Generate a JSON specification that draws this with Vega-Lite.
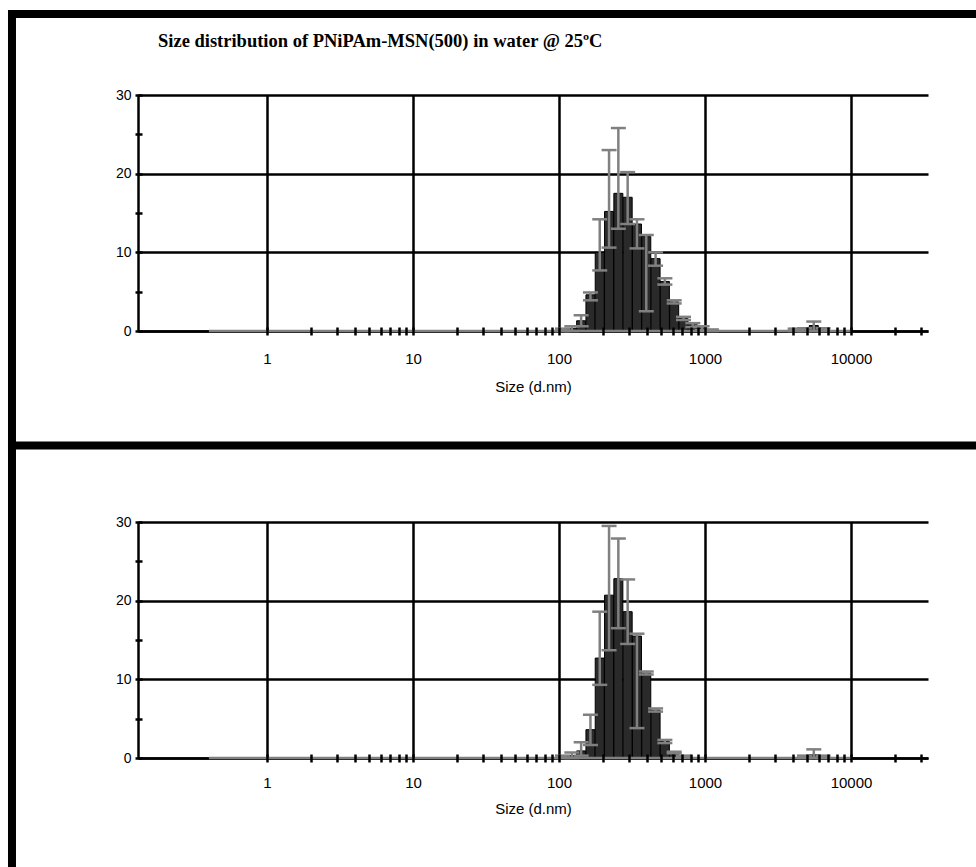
{
  "$schema": "https://vega.github.io/schema/vega-lite/v6.json",
  "background": "white",
  "padding": {"left": 6, "top": 8, "right": 0, "bottom": 0},
  "datasets": {
    "top": [
      {"size": 105.7, "mean": 0.1, "lo": 0, "hi": 0.3},
      {"size": 122.4, "mean": 0.3, "lo": 0, "hi": 0.6},
      {"size": 141.8, "mean": 1.3, "lo": 0.6, "hi": 2.0},
      {"size": 164.2, "mean": 4.6, "lo": 3.9, "hi": 4.9},
      {"size": 190.1, "mean": 10.0, "lo": 7.7, "hi": 14.2},
      {"size": 220.2, "mean": 15.2, "lo": 10.6, "hi": 23.0},
      {"size": 255.0, "mean": 17.5, "lo": 13.0, "hi": 25.8},
      {"size": 295.3, "mean": 17.0, "lo": 13.6, "hi": 20.2},
      {"size": 342.0, "mean": 13.6, "lo": 10.5, "hi": 14.2},
      {"size": 396.1, "mean": 12.0, "lo": 2.5, "hi": 12.2},
      {"size": 458.7, "mean": 9.2, "lo": 8.3, "hi": 10.0},
      {"size": 531.2, "mean": 6.3, "lo": 5.9, "hi": 6.7},
      {"size": 615.1, "mean": 3.7, "lo": 3.5, "hi": 3.9},
      {"size": 712.4, "mean": 1.6, "lo": 1.4, "hi": 1.8},
      {"size": 825.0, "mean": 0.8, "lo": 0.5, "hi": 1.0},
      {"size": 955.4, "mean": 0.4, "lo": 0.1, "hi": 0.6},
      {"size": 1106, "mean": 0.1, "lo": 0, "hi": 0.2},
      {"size": 4145, "mean": 0, "lo": 0, "hi": 0.3},
      {"size": 4801, "mean": 0.1, "lo": 0, "hi": 0.35},
      {"size": 5560, "mean": 0.7, "lo": 0, "hi": 1.2},
      {"size": 6439, "mean": 0.1, "lo": 0, "hi": 0.35}
    ],
    "bottom": [
      {"size": 105.7, "mean": 0.1, "lo": 0, "hi": 0.3},
      {"size": 122.4, "mean": 0.3, "lo": 0, "hi": 0.7},
      {"size": 141.8, "mean": 0.9, "lo": 0.3, "hi": 2.0},
      {"size": 164.2, "mean": 3.6, "lo": 1.65, "hi": 5.5},
      {"size": 190.1, "mean": 12.7, "lo": 9.3, "hi": 18.6},
      {"size": 220.2, "mean": 20.7, "lo": 13.7, "hi": 29.5},
      {"size": 255.0, "mean": 22.8, "lo": 16.5, "hi": 27.9},
      {"size": 295.3, "mean": 18.6, "lo": 14.5, "hi": 22.7},
      {"size": 342.0, "mean": 15.5, "lo": 3.8, "hi": 15.8},
      {"size": 396.1, "mean": 10.8, "lo": 10.6, "hi": 11.0},
      {"size": 458.7, "mean": 6.1, "lo": 5.9, "hi": 6.3},
      {"size": 531.2, "mean": 2.1, "lo": 1.9, "hi": 2.3},
      {"size": 615.1, "mean": 0.7, "lo": 0.6, "hi": 0.8},
      {"size": 712.4, "mean": 0.2, "lo": 0.1, "hi": 0.3},
      {"size": 4801, "mean": 0.1, "lo": 0, "hi": 0.3},
      {"size": 5560, "mean": 0.4, "lo": 0, "hi": 1.1},
      {"size": 6439, "mean": 0.1, "lo": 0, "hi": 0.3}
    ]
  },
  "vconcat": [
    {
      "width": 790,
      "height": 236,
      "data": {"name": "top"},
      "resolve": {"axis": {"x": "independent", "y": "independent"}},
      "layer": [
        {
          "mark": {"type": "bar", "orient": "vertical", "width": 9, "fill": "#2a2a2a", "stroke": "#000000", "strokeWidth": 1},
          "encoding": {
            "x": {"field": "size", "type": "quantitative",
              "scale": {"type": "log", "domain": [0.13077, 33680], "nice": false, "padding": 0},
              "axis": {"orient": "bottom", "values": [1, 10, 100, 1000, 10000], "format": "d",
                "grid": true, "ticks": false, "tickSize": 0, "labelPadding": 20, "labelFontSize": 15,
                "title": "Size (d.nm)", "titleFontSize": 15, "titleFontWeight": "normal", "titlePadding": 13}},
            "y": {"field": "mean", "type": "quantitative",
              "scale": {"domain": [0, 30], "nice": false, "zero": false, "padding": 0},
              "axis": {"orient": "left", "values": [0, 10, 20, 30], "grid": true, "ticks": false, "tickSize": 0,
                "labelPadding": 7, "labelFontSize": 14, "title": null}}
          }
        },
        {
          "mark": {"type": "rule", "color": "#808080", "strokeWidth": 2.5},
          "encoding": {
            "x": {"field": "size", "type": "quantitative",
              "axis": {"orient": "bottom", "offset": -4, "tickSize": 8, "tickWidth": 2.5, "tickColor": "#000000",
                "domain": false, "grid": false, "labels": false, "title": null, "zindex": 1,
                "values": [1, 2, 3, 4, 5, 6, 7, 8, 9, 10, 20, 30, 40, 50, 60, 70, 80, 90, 100, 200, 300, 400, 500, 600, 700, 800, 900, 1000, 2000, 3000, 4000, 5000, 6000, 7000, 8000, 9000, 10000, 20000, 30000]}},
            "y": {"field": "lo", "type": "quantitative",
              "axis": {"orient": "left", "offset": -4, "tickSize": 7, "tickWidth": 2.5, "tickColor": "#000000",
                "domain": false, "grid": false, "labels": false, "title": null, "zindex": 1,
                "values": [0, 5, 10, 15, 20, 25, 30]}},
            "y2": {"field": "hi"}
          }
        },
        {
          "mark": {"type": "tick", "orient": "horizontal", "color": "#808080", "size": 15, "thickness": 2.5, "opacity": 1},
          "encoding": {
            "x": {"field": "size", "type": "quantitative", "axis": null},
            "y": {"field": "hi", "type": "quantitative", "axis": null}
          }
        },
        {
          "mark": {"type": "tick", "orient": "horizontal", "color": "#808080", "size": 15, "thickness": 2.5, "opacity": 1},
          "encoding": {
            "x": {"field": "size", "type": "quantitative", "axis": null},
            "y": {"field": "lo", "type": "quantitative", "axis": null}
          }
        },
        {
          "data": {"values": [{"from": 0.4, "to": 10000}]},
          "mark": {"type": "rule", "color": "#808080", "strokeWidth": 2.5},
          "encoding": {
            "x": {"field": "from", "type": "quantitative", "axis": null},
            "x2": {"field": "to"},
            "y": {"datum": 0, "axis": null}
          }
        },
        {
          "data": {"values": [{"label": "Size distribution of PNiPAm-MSN(500) in water @ 25ºC"}]},
          "mark": {"type": "text", "font": "Liberation Serif", "fontWeight": "bold", "fontSize": 18.5, "align": "left", "baseline": "alphabetic", "color": "#000000"},
          "encoding": {
            "x": {"datum": 0.17923, "axis": null},
            "y": {"datum": 36.165, "axis": null},
            "text": {"field": "label"}
          }
        },
        {
          "data": {"values": [{}]},
          "mark": {"type": "rule", "color": "#000000", "strokeWidth": 8, "strokeCap": "square"},
          "encoding": {
            "x": {"datum": 0.017924, "axis": null},
            "y": {"datum": 40.297, "axis": null},
            "y2": {"datum": -14.555}
          }
        },
        {
          "data": {"values": [{}]},
          "mark": {"type": "rule", "color": "#000000", "strokeWidth": 8},
          "encoding": {
            "x": {"datum": 0.017924, "axis": null},
            "x2": {"datum": 120000},
            "y": {"datum": 40.297, "axis": null}
          }
        }
      ]
    },
    {
      "width": 790,
      "height": 236,
      "data": {"name": "bottom"},
      "resolve": {"axis": {"x": "independent", "y": "independent"}},
      "layer": [
        {
          "mark": {"type": "bar", "orient": "vertical", "width": 9, "fill": "#2a2a2a", "stroke": "#000000", "strokeWidth": 1},
          "encoding": {
            "x": {"field": "size", "type": "quantitative",
              "scale": {"type": "log", "domain": [0.13077, 33680], "nice": false, "padding": 0},
              "axis": {"orient": "bottom", "values": [1, 10, 100, 1000, 10000], "format": "d",
                "grid": true, "ticks": false, "tickSize": 0, "labelPadding": 17, "labelFontSize": 15,
                "title": "Size (d.nm)", "titleFontSize": 15, "titleFontWeight": "normal", "titlePadding": 11}},
            "y": {"field": "mean", "type": "quantitative",
              "scale": {"domain": [0, 30], "nice": false, "zero": false, "padding": 0},
              "axis": {"orient": "left", "values": [0, 10, 20, 30], "grid": true, "ticks": false, "tickSize": 0,
                "labelPadding": 7, "labelFontSize": 14, "title": null}}
          }
        },
        {
          "mark": {"type": "rule", "color": "#808080", "strokeWidth": 2.5},
          "encoding": {
            "x": {"field": "size", "type": "quantitative",
              "axis": {"orient": "bottom", "offset": -4, "tickSize": 8, "tickWidth": 2.5, "tickColor": "#000000",
                "domain": false, "grid": false, "labels": false, "title": null, "zindex": 1,
                "values": [1, 2, 3, 4, 5, 6, 7, 8, 9, 10, 20, 30, 40, 50, 60, 70, 80, 90, 100, 200, 300, 400, 500, 600, 700, 800, 900, 1000, 2000, 3000, 4000, 5000, 6000, 7000, 8000, 9000, 10000, 20000, 30000]}},
            "y": {"field": "lo", "type": "quantitative",
              "axis": {"orient": "left", "offset": -4, "tickSize": 7, "tickWidth": 2.5, "tickColor": "#000000",
                "domain": false, "grid": false, "labels": false, "title": null, "zindex": 1,
                "values": [0, 5, 10, 15, 20, 25, 30]}},
            "y2": {"field": "hi"}
          }
        },
        {
          "mark": {"type": "tick", "orient": "horizontal", "color": "#808080", "size": 15, "thickness": 2.5, "opacity": 1},
          "encoding": {
            "x": {"field": "size", "type": "quantitative", "axis": null},
            "y": {"field": "hi", "type": "quantitative", "axis": null}
          }
        },
        {
          "mark": {"type": "tick", "orient": "horizontal", "color": "#808080", "size": 15, "thickness": 2.5, "opacity": 1},
          "encoding": {
            "x": {"field": "size", "type": "quantitative", "axis": null},
            "y": {"field": "lo", "type": "quantitative", "axis": null}
          }
        },
        {
          "data": {"values": [{"from": 0.4, "to": 10000}]},
          "mark": {"type": "rule", "color": "#808080", "strokeWidth": 2.5},
          "encoding": {
            "x": {"field": "from", "type": "quantitative", "axis": null},
            "x2": {"field": "to"},
            "y": {"datum": 0, "axis": null}
          }
        },
        {
          "data": {"values": [{}]},
          "mark": {"type": "rule", "color": "#000000", "strokeWidth": 8, "strokeCap": "square"},
          "encoding": {
            "x": {"datum": 0.017924, "axis": null},
            "y": {"datum": 39.725, "axis": null},
            "y2": {"datum": -16}
          }
        },
        {
          "data": {"values": [{}]},
          "mark": {"type": "rule", "color": "#000000", "strokeWidth": 8},
          "encoding": {
            "x": {"datum": 0.017924, "axis": null},
            "x2": {"datum": 120000},
            "y": {"datum": 39.725, "axis": null}
          }
        }
      ]
    }
  ],
  "spacing": 191,
  "bounds": "flush",
  "config": {
    "view": {"stroke": null},
    "font": "Liberation Sans",
    "axis": {
      "domainColor": "#000000",
      "domainWidth": 2.5,
      "gridColor": "#000000",
      "gridWidth": 2.5,
      "gridOpacity": 1,
      "labelColor": "#000000",
      "titleColor": "#000000",
      "labelFont": "Liberation Sans",
      "titleFont": "Liberation Sans",
      "labelOverlap": false,
      "labelFlush": false,
      "labelBound": false
    }
  }
}
